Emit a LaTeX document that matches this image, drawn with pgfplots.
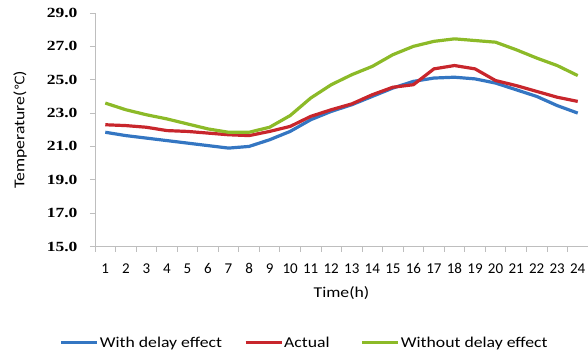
\documentclass[border=0pt]{standalone}
\usepackage{pgfplots}
\pgfplotsset{compat=1.18}
\usepackage{fontspec}
\setmainfont{Carlito}
\newfontfamily\widesans{Carlito}[FakeStretch=1.18]
\newfontfamily\serifb{Liberation Serif}[FakeStretch=1.25]
\newfontfamily\symb{DejaVu Sans}

\definecolor{cblue}{RGB}{52,118,194}
\definecolor{cred}{RGB}{200,38,44}
\definecolor{cgreen}{RGB}{140,186,40}
\definecolor{axgray}{RGB}{190,190,190}

\begin{document}
\begin{tikzpicture}
\useasboundingbox (0,0) rectangle (588pt,354pt);
\begin{axis}[
  at={(95pt,107.5pt)}, anchor=south west,
  scale only axis, width=493pt, height=233.5pt,
  xmin=0.5, xmax=24.5, ymin=15, ymax=29,
  axis x line=bottom, axis y line=left,
  axis line style={-, draw=axgray, line width=0.8pt},
  xtick={1,...,24},
  major x tick style={draw=none},
  minor xtick={0.5,1.5,...,24.5},
  minor x tick style={draw=axgray, line width=0.8pt},
  minor tick length=5pt,
  ytick={15,17,...,29},
  y tick style={draw=axgray, line width=0.8pt},
  major tick length=5pt,
  tick align=outside,
  yticklabel style={/pgf/number format/fixed, /pgf/number format/fixed zerofill,
    /pgf/number format/precision=1, /pgf/number format/assume math mode=true,
    font=\serifb\bfseries\fontsize{14}{14}\selectfont, xshift=-9pt},
  xticklabel style={/pgf/number format/assume math mode=true,
    font=\fontsize{15}{15}\selectfont, yshift=-8.5pt},
  xlabel={Time(h)},
  xlabel style={font=\widesans\fontsize{15}{15}\selectfont, at={(axis description cs:0.5,0)}, anchor=center, yshift=-47pt},
  ylabel={Temperature({\symb\fontsize{13}{13}\selectfont ℃})},
  ylabel style={font=\widesans\fontsize{15}{15}\selectfont, at={(axis description cs:-0.152,0.5)}, anchor=center},
  legend columns=3,
  legend style={draw=none, fill=none, inner xsep=0pt, at={(axis description cs:-0.072,-0.412)}, anchor=west,
    font=\widesans\fontsize{15}{15}\selectfont,
    nodes={inner sep=1pt},
    /tikz/column 2/.style={column sep=21pt},
    /tikz/column 4/.style={column sep=30pt}},
  legend image code/.code={\draw[#1] (0pt,0pt) -- (36pt,0pt);},
  every axis plot/.append style={line width=3.2pt, line join=round},
]
% predicted indoor temperature, including the thermal delay
\addplot[cblue] coordinates {
(1,21.85) (2,21.65) (3,21.5) (4,21.35) (5,21.2) (6,21.05) (7,20.9) (8,21.0)
(9,21.4) (10,21.9) (11,22.6) (12,23.1) (13,23.5) (14,24.0) (15,24.5) (16,24.9)
(17,25.1) (18,25.15) (19,25.05) (20,24.8) (21,24.4) (22,24.0) (23,23.45) (24,23.0)};
\addlegendentry{With delay effect}
% measured temperature
\addplot[cred] coordinates {
(1,22.3) (2,22.25) (3,22.15) (4,21.95) (5,21.9) (6,21.8) (7,21.7) (8,21.65)
(9,21.9) (10,22.2) (11,22.8) (12,23.2) (13,23.55) (14,24.1) (15,24.55) (16,24.7)
(17,25.65) (18,25.85) (19,25.65) (20,24.95) (21,24.65) (22,24.3) (23,23.95) (24,23.7)};
\addlegendentry{Actual}
% predicted temperature, no thermal delay
\addplot[cgreen] coordinates {
(1,23.6) (2,23.2) (3,22.9) (4,22.65) (5,22.35) (6,22.05) (7,21.85) (8,21.85)
(9,22.15) (10,22.85) (11,23.9) (12,24.7) (13,25.3) (14,25.8) (15,26.5) (16,27.0)
(17,27.3) (18,27.45) (19,27.35) (20,27.25) (21,26.8) (22,26.3) (23,25.85) (24,25.25)};
\addlegendentry{Without delay effect}
\end{axis}
\end{tikzpicture}
\end{document}
